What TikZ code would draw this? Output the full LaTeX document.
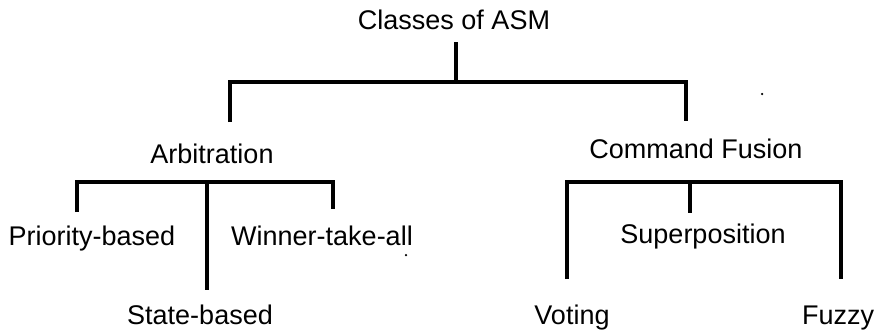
\documentclass[tikz,border=0pt]{standalone}
\usepackage{fontspec}
\setmainfont{Liberation Sans}
\begin{document}
\begin{tikzpicture}[x=1pt,y=-1pt,
  lbl/.style={anchor=base,inner sep=0pt,font=\fontsize{27}{32}\selectfont},
  br/.style={line width=4pt,line join=miter,line cap=butt},
  speck/.style={fill=black,inner sep=0pt,minimum size=2.5pt,circle}]
\useasboundingbox (0,0) rectangle (874,333);
% labels
\node[lbl] (root) at (454,29) {Classes of ASM};
\node[lbl] (arb) at (212,163) {Arbitration};
\node[lbl] (cf) at (696,158) {Command Fusion};
\node[lbl] (pri) at (92,245) {Priority-based};
\node[lbl] (win) at (322,245) {Winner-take-all};
\node[lbl] (sta) at (200,324) {State-based};
\node[lbl] (sup) at (703,243) {Superposition};
\node[lbl] (vot) at (572,324) {Voting};
\node[lbl] (fuz) at (838,324) {Fuzzy};
% connector points
\coordinate (rs) at (456,42);
\coordinate (rb) at (456,82);
\coordinate (rl) at (230,122);
\coordinate (rr) at (686,121);
\coordinate (as) at (207,182);
\coordinate (al) at (77,212);
\coordinate (am) at (207,290);
\coordinate (ar) at (333,209);
\coordinate (cl) at (567,279);
\coordinate (cm) at (690,213);
\coordinate (cr) at (841,279);
% root bracket
\draw[br] (rs) -- (rb);
\draw[br] (rl) -- (rl |- rb) -- (rr |- rb) -- (rr);
% arbitration bracket
\draw[br] (al) -- (al |- as) -- (ar |- as) -- (ar);
\draw[br] (as) -- (am);
% command fusion bracket
\draw[br] (cl) -- (cl |- as) -- (cr |- as) -- (cr);
\draw[br] (cm |- as) -- (cm);
% specks
\node[speck] (d1) at (762,94) {};
\node[speck] (d2) at (406,255) {};
\end{tikzpicture}
\end{document}
